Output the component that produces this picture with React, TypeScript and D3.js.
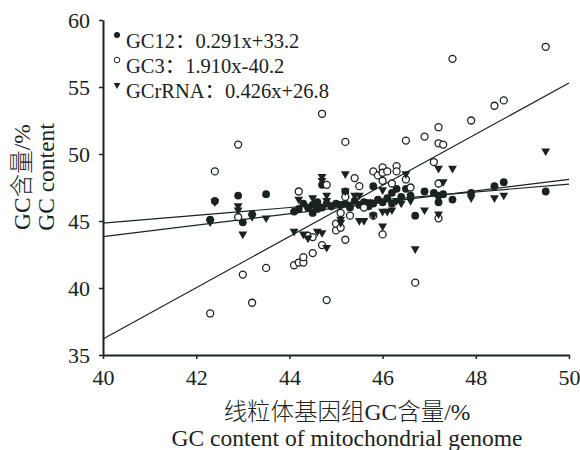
import React, { useEffect, useRef } from "react";
import * as d3 from "d3";

// [mito genome GC, GC value]
const gc12: [number, number][] = [
  [42.3, 45.1], [42.4, 46.5], [42.9, 46.9], [43.0, 44.9], [43.2, 45.5], [43.5, 47.0],
  [44.1, 45.7], [44.2, 45.9], [44.3, 46.3], [44.4, 46.0], [44.5, 45.6], [44.5, 46.2],
  [44.6, 45.9], [44.6, 46.4], [44.7, 47.7], [44.7, 46.0], [44.8, 46.3], [44.9, 46.1],
  [45.0, 46.3], [45.1, 46.2], [45.2, 47.2], [45.2, 46.3], [45.3, 46.0], [45.4, 46.5],
  [45.5, 46.2], [45.6, 46.4], [45.7, 46.1], [45.8, 47.6], [45.8, 46.3], [45.9, 46.6],
  [46.0, 46.4], [46.1, 46.7], [46.2, 47.1], [46.2, 46.3], [46.3, 47.4], [46.4, 46.8],
  [46.5, 47.4], [46.6, 46.9], [46.7, 45.4], [46.9, 47.2], [47.1, 47.1], [47.2, 46.9],
  [47.2, 46.4], [47.3, 47.0], [47.5, 46.6], [47.9, 47.1], [48.4, 47.6], [48.6, 47.9],
  [49.5, 47.2],
];

const gc3: [number, number][] = [
  [42.3, 38.1], [42.4, 48.7], [42.9, 50.7], [42.9, 45.3], [43.0, 41.0], [43.2, 38.9],
  [43.5, 41.5], [44.1, 41.7], [44.2, 41.9], [44.3, 41.9], [44.3, 42.3], [44.5, 42.6],
  [44.7, 43.2], [44.8, 39.1], [44.4, 43.9], [44.5, 43.8], [44.2, 47.2], [44.7, 53.0],
  [44.8, 47.7], [45.0, 44.3], [45.0, 44.8], [45.1, 45.6], [45.1, 44.5], [45.2, 43.6],
  [45.2, 46.8], [45.2, 50.9], [45.3, 45.4], [45.4, 48.2], [45.5, 47.6], [45.6, 46.0],
  [45.8, 45.4], [45.8, 48.7], [45.9, 48.4], [46.0, 49.0], [46.0, 48.6], [46.0, 48.0],
  [46.0, 44.0], [46.1, 48.7], [46.2, 47.8], [46.3, 49.1], [46.3, 48.7], [46.5, 51.0],
  [46.5, 48.1], [46.6, 47.5], [46.7, 40.4], [46.9, 51.3], [47.1, 49.4], [47.2, 52.0],
  [47.2, 50.8], [47.3, 50.7], [47.2, 47.8], [47.2, 45.2], [47.5, 57.1], [47.9, 52.5],
  [48.4, 53.6], [48.6, 54.0], [49.5, 58.0],
];

const gcrRNA: [number, number][] = [
  [42.3, 45.0], [42.4, 46.5], [42.9, 46.2], [42.9, 45.9], [43.0, 44.1], [43.2, 45.4],
  [43.5, 45.3], [44.1, 44.3], [44.2, 46.7], [44.3, 44.1], [44.4, 43.8], [44.5, 46.8],
  [44.6, 44.3], [44.7, 44.2], [44.7, 48.4], [44.7, 48.1], [44.8, 43.1], [44.8, 47.0],
  [44.8, 46.6], [44.9, 46.2], [45.1, 44.95], [45.1, 45.2], [45.2, 48.6], [45.2, 47.3],
  [45.3, 46.3], [45.4, 47.0], [45.5, 47.0], [45.5, 45.1], [45.6, 45.1], [45.7, 46.5],
  [45.8, 45.5], [46.0, 47.4], [46.0, 44.7], [46.0, 45.8], [46.1, 45.8], [46.2, 45.9],
  [46.3, 46.6], [46.4, 46.4], [46.5, 48.6], [46.6, 46.6], [46.7, 43.0], [46.9, 45.9],
  [47.2, 49.0], [47.5, 49.0], [47.3, 48.0], [47.2, 45.6], [47.9, 46.8], [48.4, 46.8],
  [48.6, 47.0], [49.5, 50.3],
];

// regression: slope, intercept
const fitNames = ["GC12", "GC3", "GCrRNA"];
const fitSlopes = [0.291, 1.91, 0.426];
const fitIntercepts = [33.2, -40.2, 26.8];
const fitLabels = ["GC12：0.291x+33.2", "GC3：1.910x-40.2", "GCrRNA：0.426x+26.8"];

const xTicks = [40, 42, 44, 46, 48, 50];
const yTicks = [35, 40, 45, 50, 55, 60];

const ink = "#1a2320";
const font = "'Liberation Serif', 'Times New Roman', 'Noto Sans CJK SC', serif";

export default function App() {
  const ref = useRef<SVGSVGElement>(null);

  useEffect(() => {
    const width = 580,
      height = 450;
    const left = 103,
      right = 569,
      top = 20,
      bottom = 355;

    const svg = d3.select(ref.current);
    svg.selectAll("*").remove();

    const x = d3.scaleLinear().domain([40, 50]).range([left, right]);
    const y = d3.scaleLinear().domain([35, 60]).range([bottom, top]);

    svg.append("rect").attr("width", width).attr("height", height).attr("fill", "#fff");

    // fit lines
    fitSlopes.forEach((m, i) => {
      const b = fitIntercepts[i];
      svg
        .append("line")
        .attr("x1", x(40))
        .attr("y1", y(m * 40 + b))
        .attr("x2", x(50))
        .attr("y2", y(m * 50 + b))
        .attr("stroke", ink)
        .attr("stroke-width", 1.2);
    });

    const tri = d3.symbol().type(d3.symbolTriangle).size(34);

    svg
      .append("g")
      .selectAll("circle")
      .data(gc12)
      .join("circle")
      .attr("cx", (d) => x(d[0]))
      .attr("cy", (d) => y(d[1]))
      .attr("r", 3.9)
      .attr("fill", ink);

    svg
      .append("g")
      .selectAll("circle")
      .data(gc3)
      .join("circle")
      .attr("cx", (d) => x(d[0]))
      .attr("cy", (d) => y(d[1]))
      .attr("r", 3.5)
      .attr("fill", "#fff")
      .attr("stroke", ink)
      .attr("stroke-width", 1.3);

    svg
      .append("g")
      .selectAll("path")
      .data(gcrRNA)
      .join("path")
      .attr("d", tri)
      .attr("transform", (d) => `translate(${x(d[0])},${y(d[1]) + 1}) rotate(180)`)
      .attr("fill", ink);

    // axes
    const xAxis = svg
      .append("g")
      .attr("transform", `translate(0,${bottom})`)
      .call(d3.axisBottom(x).tickValues(xTicks).tickSize(4).tickSizeOuter(0).tickPadding(10));
    const yAxis = svg
      .append("g")
      .attr("transform", `translate(${left},0)`)
      .call(d3.axisLeft(y).tickValues(yTicks).tickSize(4).tickSizeOuter(0).tickPadding(9));
    [xAxis, yAxis].forEach((g) => {
      g.attr("font-family", font).attr("font-size", 22);
      g.select(".domain").attr("stroke", ink).attr("stroke-width", 2);
      g.selectAll(".tick line").attr("stroke", ink).attr("stroke-width", 1.5);
      g.selectAll(".tick text")
        .attr("fill", ink)
        .style("font-family", font)
        .style("font-size", "22px");
    });
    xAxis.selectAll(".tick text").attr("dy", "0.72em");

    // legend
    const lg = svg.append("g");
    fitNames.forEach((name, i) => {
      const cy = 35 + i * 25;
      if (name === "GC12") {
        lg.append("circle").attr("cx", 117).attr("cy", cy).attr("r", 3).attr("fill", ink);
      } else if (name === "GC3") {
        lg.append("circle")
          .attr("cx", 117)
          .attr("cy", cy)
          .attr("r", 2.8)
          .attr("fill", "#fff")
          .attr("stroke", ink)
          .attr("stroke-width", 1);
      } else {
        lg.append("path")
          .attr("d", d3.symbol().type(d3.symbolTriangle).size(20))
          .attr("transform", `translate(117,${cy}) rotate(180)`)
          .attr("fill", ink);
      }
      lg.append("text")
        .attr("x", 126)
        .attr("y", cy + 13)
        .style("font-family", font)
        .style("font-size", "20.5px")
        .attr("fill", ink)
        .text(fitLabels[i]);
    });

    // axis titles
    const mid = 347;
    svg
      .append("text")
      .attr("x", mid)
      .attr("y", 420)
      .attr("text-anchor", "middle")
      .style("font-family", font)
      .style("font-size", "23.5px")
      .style("font-weight", 300)
      .attr("fill", ink)
      .text("线粒体基因组GC含量/%");
    svg
      .append("text")
      .attr("x", mid)
      .attr("y", 446)
      .attr("text-anchor", "middle")
      .style("font-family", font)
      .style("font-size", "23.5px")
      .attr("fill", ink)
      .text("GC content of mitochondrial genome");

    const yt = svg
      .append("g")
      .attr("transform", `translate(0,177) rotate(-90)`);
    yt.append("text")
      .attr("x", 0)
      .attr("y", 30)
      .attr("text-anchor", "middle")
      .style("font-family", font)
      .style("font-size", "23.5px")
      .style("font-weight", 300)
      .attr("fill", ink)
      .text("GC含量/%");
    yt.append("text")
      .attr("x", 0)
      .attr("y", 54)
      .attr("text-anchor", "middle")
      .style("font-family", font)
      .style("font-size", "23.5px")
      .attr("fill", ink)
      .text("GC content");
  }, []);

  return (
    <svg
      ref={ref}
      width={580}
      height={450}
      style={{ position: "absolute", left: 0, top: 0 }}
    />
  );
}
